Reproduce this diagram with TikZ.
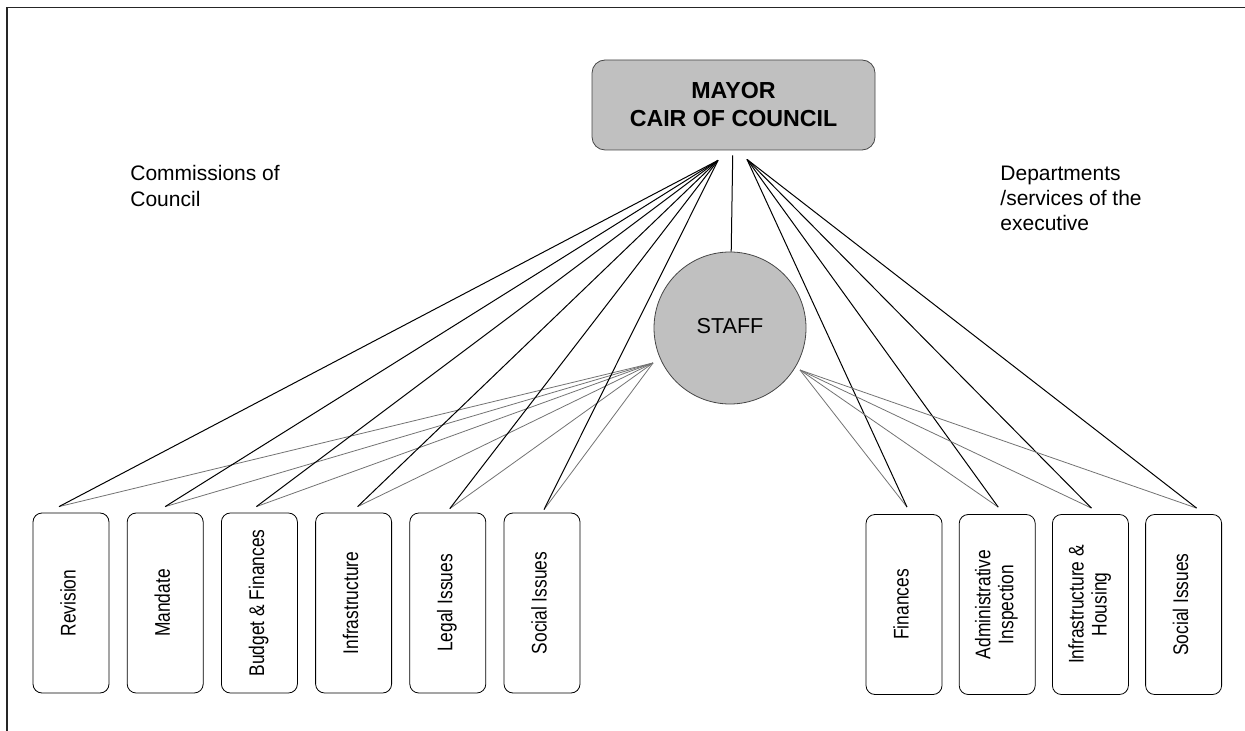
\documentclass[tikz,border=0pt]{standalone}
\usepackage{fontspec}
\setmainfont{Liberation Sans}
\newfontfamily\narrowsans[FakeStretch=0.82]{Liberation Sans}
\usepackage{graphicx}
\usepackage{tikz}
\usetikzlibrary{positioning}

\definecolor{boxgray}{RGB}{192,192,192}
\definecolor{rimgray}{RGB}{70,70,70}
\definecolor{staffline}{RGB}{115,115,115}

% rotated (bottom-to-top) box label, one or more lines
\newcommand{\uptext}[1]{\rotatebox{90}{\begin{tabular}{@{}c@{}}#1\end{tabular}}}

\begin{document}
\begin{tikzpicture}[
        % one unit = one pixel of the page, y running down
        x=0.5pt, y=-0.5pt,
        node distance=8.7pt,
        % Mayor: gray rounded box, bold caps
        head/.style = {rectangle, draw=rimgray, fill=boxgray, rounded corners=6.5pt,
                       minimum width=141.5pt, minimum height=45pt, align=center,
                       font=\bfseries\fontsize{11.6}{14}\selectfont},
        % Staff: gray circle
        staffnode/.style = {circle, draw=rimgray, fill=boxgray, minimum size=76pt,
                            inner sep=0pt, font=\fontsize{10.8}{13}\selectfont},
        % Commissions / departments: tall white boxes, rotated narrow text
        unit/.style = {rectangle, draw=black, fill=white, rounded corners=4.5pt,
                       minimum width=38pt, minimum height=90pt, inner sep=0pt,
                       font=\narrowsans\fontsize{10.6}{11.5}\selectfont},
        % Side captions
        caption/.style = {anchor=north west, inner sep=0pt, align=left,
                          font=\fontsize{10.5}{13}\selectfont},
        % Lines: black from the mayor, thin gray from the staff
        mline/.style = {draw=black, line width=0.5pt},
        sline/.style = {draw=staffline, line width=0.4pt}
    ]
    \useasboundingbox (0,0) rectangle (1245,731);

    % --- Frame (top and left edge) ---
    \draw[line width=0.9pt, black!85] (1245,7.5) -- (7,7.5) -- (7,731);

    % --- Top: Mayor and Staff ---
    \node[head] (mayor) at (733.5,105) {MAYOR\\CAIR OF COUNCIL};
    \node[staffnode] (staff) at (730,328) {\raisebox{2.5pt}{STAFF}};

    % --- Captions ---
    \node[caption] (commlbl) at (130,165) {Commissions of\\Council};
    \node[caption, font=\fontsize{10.5}{12.5}\selectfont] (deplbl) at (1000,166)
          {Departments\\/services of the\\executive};

    % --- Commissions of Council ---
    \node[unit] (rev) at (71,603) {\uptext{Revision}};
    \node[unit, right=of rev] (mand) {\uptext{Mandate}};
    \node[unit, right=of mand] (budget) {\uptext{Budget \& Finances}};
    \node[unit, right=of budget] (infra) {\uptext{Infrastructure}};
    \node[unit, right=of infra] (legal) {\uptext{Legal Issues}};
    \node[unit, right=of legal] (social) {\uptext{Social Issues}};

    % --- Departments / services ---
    \node[unit] (fin) at (904,604.5) {\uptext{Finances}};
    \node[unit, right=8.2pt of fin] (admin) {\uptext{Administrative\\Inspection}};
    \node[unit, right=8.2pt of admin] (housing) {\uptext{Infrastructure \&\\Housing}};
    \node[unit, right=8.2pt of housing] (socdep) {\uptext{Social Issues}};

    % --- Meeting points of the fans ---
    \coordinate (mayor-l) at ([shift={(-15.5,10)}]mayor.south);
    \coordinate (mayor-r) at ([shift={(13.5,9)}]mayor.south);
    \coordinate (staff-l) at ([shift={(-77,35)}]staff.center);
    \coordinate (staff-r) at ([shift={(70,42)}]staff.center);

    \coordinate (rev-in) at ([shift={(-12,-6)}]rev.north);
    \coordinate (mand-in) at ([shift={(0,-6)}]mand.north);
    \coordinate (budget-in) at ([shift={(-3,-6)}]budget.north);
    \coordinate (infra-in) at ([shift={(4,-6)}]infra.north);
    \coordinate (legal-in) at ([shift={(2,-4)}]legal.north);
    \coordinate (social-in) at ([shift={(2,-3)}]social.north);
    \coordinate (fin-in) at ([shift={(3,-7)}]fin.north);
    \coordinate (admin-in) at ([shift={(1,-7)}]admin.north);
    \coordinate (housing-in) at ([shift={(1,-6)}]housing.north);
    \coordinate (socdep-in) at ([shift={(13,-6)}]socdep.north);

    % --- Connectors ---
    \draw[mline, shorten <=2.5pt] (mayor) -- (staff);
    \foreach \u in {rev, mand, budget, infra, legal, social} {
        \draw[sline] (staff-l) -- (\u-in);
        \draw[mline] (mayor-l) -- (\u-in);
    }
    \foreach \u in {fin, admin, housing, socdep} {
        \draw[sline] (staff-r) -- (\u-in);
        \draw[mline] (mayor-r) -- (\u-in);
    }

\end{tikzpicture}
\end{document}
